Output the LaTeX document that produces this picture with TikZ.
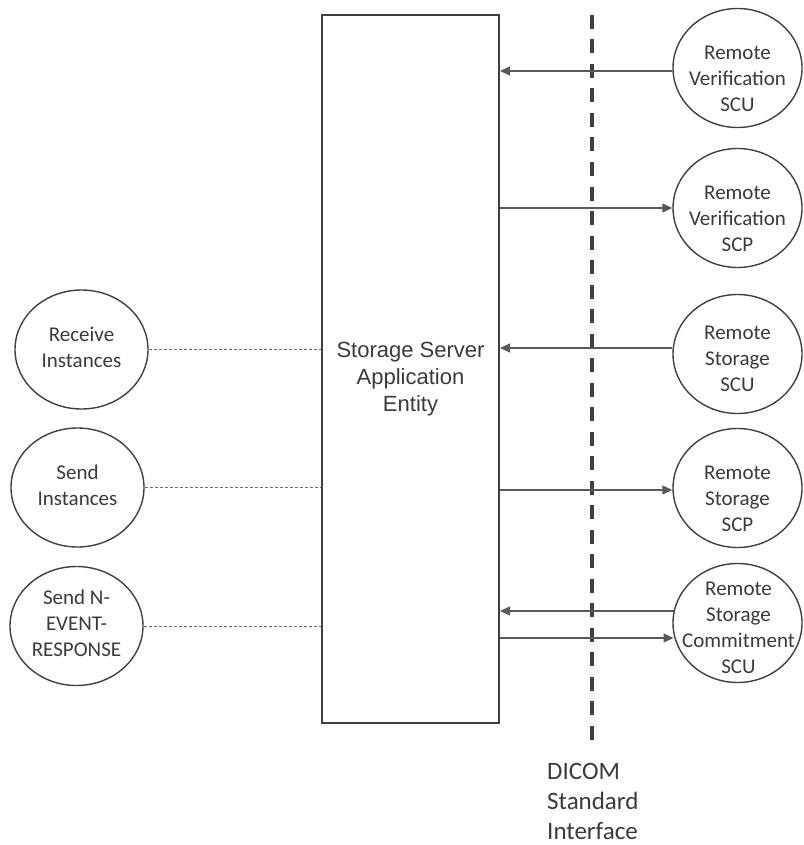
\documentclass[tikz,border=0pt]{standalone}
\usepackage{fontspec}
\setmainfont{Carlito}
\newfontfamily\arialfont{Liberation Sans}
\usetikzlibrary{shapes.geometric,arrows.meta,calc}
\definecolor{ink}{HTML}{404040}
\definecolor{txt}{HTML}{3A3A3A}
\definecolor{flowc}{HTML}{595959}
\definecolor{linkc}{HTML}{707070}
\begin{document}
\begin{tikzpicture}[x=1pt,y=-1pt,
  ell/.style={ellipse,draw=ink,line width=1.4pt,minimum width=129pt,minimum height=119pt,inner sep=0pt},
  lell/.style={ellipse,draw=ink,line width=1.4pt,minimum width=133pt,minimum height=119pt,inner sep=0pt},
  lbl/.style={text=txt,align=center,inner sep=0pt,font=\fontsize{21}{26}\selectfont},
  flow/.style={draw=flowc,line width=1.2pt,-{Triangle[length=10pt,width=9pt]}},
  link/.style={draw=linkc,line width=0.9pt,dash pattern=on 3pt off 2pt}
]
\useasboundingbox (0,0) rectangle (803,845);

% main application entity
\node[draw=ink,line width=2pt,minimum width=177pt,minimum height=708pt,inner sep=0pt] (ae) at (410.5,369) {};
\node[text=txt,align=center,inner sep=0pt,font=\arialfont\fontsize{22}{27}\selectfont] (aet) at (410.5,379) {Storage Server\\Application\\Entity};

% DICOM interface divider
\coordinate (dtop) at (592,15);
\coordinate (dbot) at (592,740);
\draw[ink,line width=4pt,dash pattern=on 14pt off 10.5pt] (dtop) -- (dbot);
\node[lbl,anchor=west,align=left,font=\fontsize{25}{30}\selectfont] (dicom) at (547,801) {DICOM\\Standard\\Interface};

% remote ellipses
\node[ell] (r1) at (737.5,68) {};
\node[ell] (r2) at (737.5,208) {};
\node[ell] (r3) at (737.5,354) {};
\node[ell] (r4) at (737.5,488) {};
\node[ell] (r5) at (737.5,623) {};
\node[lbl] (t1) at (737.5,79) {Remote\\Verification\\SCU};
\node[lbl] (t2) at (737.5,219) {Remote\\Verification\\SCP};
\node[lbl] (t3) at (737.5,359) {Remote\\Storage\\SCU};
\node[lbl] (t4) at (737.5,499) {Remote\\Storage\\SCP};
\node[lbl] (t5) at (738.5,628) {Remote\\Storage\\Commitment\\SCU};

% local ellipses
\node[lell] (l1) at (81.5,349.5) {};
\node[lell] (l2) at (77.5,487.5) {};
\node[lell] (l3) at (76.5,626) {};
\node[lbl] (u1) at (81.5,347) {Receive\\Instances};
\node[lbl] (u2) at (77.5,485) {Send\\Instances};
\node[lbl] (u3) at (76.5,623) {Send N-\\EVENT-\\RESPONSE};

% flows
\draw[flow] ($(r1.west)+(0,3)$) coordinate (a1) -- (a1 -| ae.east);
\draw[flow] (r2.west -| ae.east) -- (r2.west);
\draw[flow] ($(r3.west)+(0,-6)$) coordinate (a3) -- (a3 -| ae.east);
\draw[flow] ($(r4.west -| ae.east)+(0,2)$) -- ($(r4.west)+(0,2)$);
\draw[flow] ($(r5.west)+(1.2,-12)$) coordinate (a5) -- (a5 -| ae.east);
\coordinate (b5) at ($(r5.west)+(1.2,15)$);
\draw[flow] (b5 -| ae.east) -- (b5);

% links
\draw[link] (l1.east) -- (l1.east -| ae.west);
\draw[link] (l2.east) -- (l2.east -| ae.west);
\draw[link] (l3.east) -- (l3.east -| ae.west);
\end{tikzpicture}
\end{document}
